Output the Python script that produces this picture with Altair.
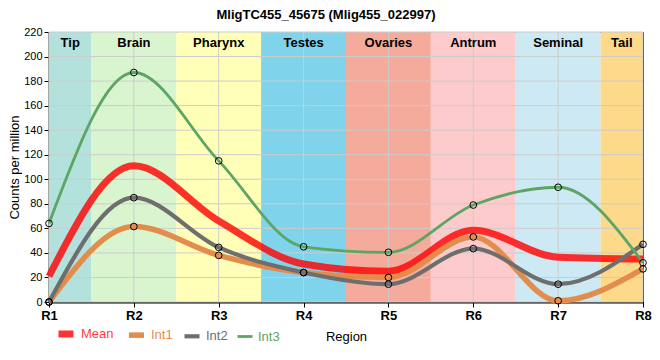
import altair as alt
import pandas as pd

regions = ["R1", "R2", "R3", "R4", "R5", "R6", "R7", "R8"]
series_names = ["Mean", "Int1", "Int2", "Int3"]
mean_vals = [21, 111, 66, 31, 25, 58.5, 36.5, 35]
int1_vals = [0, 61.5, 38, 24, 20, 53, 1, 27]
int2_vals = [0, 85, 44.5, 24, 14.5, 43.5, 14.5, 47]
int3_vals = [64, 187, 115, 45, 40.5, 79, 93.5, 32]
series_colors = ["rgba(255,0,0,0.8)", "#e38d4d", "#6e6e6e", "#5ca564"]
series_widths = [7, 2.8, 2.8, 2.8]

band_names = ["Tip", "Brain", "Pharynx", "Testes", "Ovaries", "Antrum", "Seminal", "Tail"]
band_start = [1, 1.5, 2.5, 3.5, 4.5, 5.5, 6.5, 7.5]
band_end = [1.5, 2.5, 3.5, 4.5, 5.5, 6.5, 7.5, 8]
band_colors = ["#b3e2dd", "#d8f5d0", "#ffffb8", "#7fd4ec", "#f4ab9b", "#fdcbcb", "#cdeaf4", "#fdd98a"]

y_ticks = [0, 20, 40, 60, 80, 100, 120, 140, 160, 180, 200, 220]
x_ticks = [1, 2, 3, 4, 5, 6, 7, 8]

rows = []
for name, vals in zip(series_names, [mean_vals, int1_vals, int2_vals, int3_vals]):
    for i, (r, v) in enumerate(zip(regions, vals)):
        rows.append({"series": name, "pos": i + 1, "region": r, "value": v})
df = pd.DataFrame(rows)
bands = pd.DataFrame({"name": band_names, "start": band_start, "end": band_end, "color": band_colors})
ygrid = pd.DataFrame({"v": y_ticks})
xgrid = pd.DataFrame({"v": x_ticks})

FONT = "Liberation Sans"
W, H = 594, 270
xscale = alt.Scale(domain=[1, 8], nice=False, zero=False)
yscale = alt.Scale(domain=[0, 220], nice=False)

xaxis = alt.Axis(values=x_ticks, labelExpr="'R' + datum.value", grid=False,
                 labelFontWeight="bold", labelFontSize=13, labelColor="black",
                 domainColor="black", domainWidth=2, tickColor="black",
                 tickSize=5, labelPadding=2, titleFontSize=13, labelOverlap=False,
                 labelFlush=False,
                 titleFontWeight="normal", titlePadding=8, titleColor="black")
yaxis = alt.Axis(values=y_ticks, grid=False, labelFontSize=11, labelColor="black",
                 domainColor="black", domainWidth=2, tickColor="black", tickSize=5,
                 labelPadding=2, titleFontSize=13, titleFontWeight="normal",
                 titleColor="black", titlePadding=2, labelOverlap=False, labelFlush=False)

band_layer = alt.Chart(bands).mark_rect().encode(
    x=alt.X("start:Q", scale=xscale, title="Region", axis=xaxis),
    x2="end:Q",
    y=alt.value(0),
    y2=alt.value(H),
    color=alt.Color("color:N", scale=None),
)

band_text = alt.Chart(bands).mark_text(
    baseline="top", fontWeight="bold", fontSize=13, font=FONT, color="black"
).encode(
    x=alt.X("mid:Q", scale=xscale, title="Region", axis=xaxis),
    y=alt.value(5),
    text="name:N",
).transform_calculate(mid="(datum.start + datum.end) / 2")

ygrid_layer = alt.Chart(ygrid).mark_rule(color="#cccccc", strokeWidth=1).encode(
    y=alt.Y("v:Q", scale=yscale, title="Counts per million", axis=yaxis)
)
xgrid_layer = alt.Chart(xgrid).mark_rule(color="#cccccc", strokeWidth=1).encode(
    x=alt.X("v:Q", scale=xscale, title="Region", axis=xaxis)
)

color_scale = alt.Scale(domain=series_names, range=series_colors)
width_scale = alt.Scale(domain=series_names, range=series_widths)
legend = alt.Legend(
    title=None, orient="none", legendX=6, legendY=291, direction="horizontal",
    symbolType="stroke", symbolSize=225, labelFontSize=13, labelFont=FONT,
    columnPadding=3, labelOffset=4,
    labelColor=alt.ExprRef("scale('color', datum.value)"),
)

lines = alt.Chart(df).mark_line(interpolate="monotone").encode(
    x=alt.X("pos:Q", scale=xscale, title="Region", axis=xaxis),
    y=alt.Y("value:Q", scale=yscale, title="Counts per million", axis=yaxis),
    color=alt.Color("series:N", scale=color_scale, sort=series_names, legend=legend),
    strokeWidth=alt.StrokeWidth("series:N", scale=width_scale, sort=series_names, legend=legend),
    order=alt.Order("pos:Q"),
)

points = alt.Chart(df).transform_filter(
    alt.datum.series != "Mean"
).mark_point(filled=False, color="black", size=45, strokeWidth=1, opacity=1).encode(
    x=alt.X("pos:Q", scale=xscale, title="Region", axis=xaxis),
    y=alt.Y("value:Q", scale=yscale, title="Counts per million", axis=yaxis),
)

chart = alt.layer(
    band_layer, ygrid_layer, xgrid_layer, band_text, lines, points
).properties(
    width=W, height=H,
    title=alt.TitleParams("MligTC455_45675 (Mlig455_022997)", fontSize=13, fontWeight="bold",
                          font=FONT, color="black", dx=-20, offset=4),
    autosize=alt.AutoSizeParams(type="none"),
    padding={"left": 41, "top": 24, "right": 9, "bottom": 46},
).configure(font=FONT).configure_view(stroke="black", strokeWidth=1).configure_axis(
    labelFont=FONT, titleFont=FONT
)

chart.save("out.html", embed_options={"renderer": "svg", "actions": False})
